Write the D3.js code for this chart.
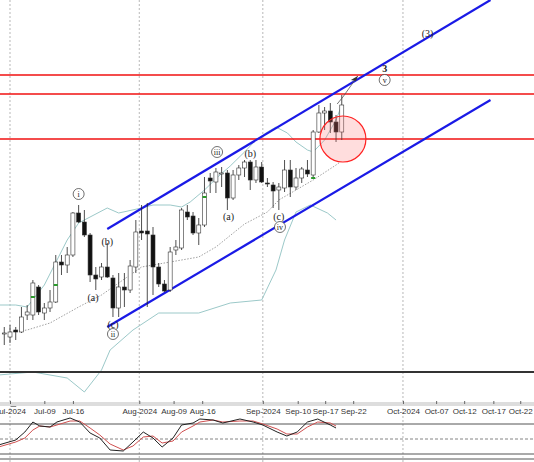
<!DOCTYPE html>
<html><head><meta charset="utf-8">
<script src="https://cdn.jsdelivr.net/npm/d3@7"></script>
<style>body{margin:0;background:#fff}svg{display:block;font-family:"DejaVu Sans",sans-serif}</style>
</head><body><svg id="c" width="534" height="462"></svg>
<script>
// candles: [index, open, high, low, close]  (chart level units, larger = lower on screen)
var candles = [
 [-1,334,327,345,333],[0,337,325,343,332],[1,330,327,340,332],[2,332,307,333,317],[3,315,305,320,312],
 [4,315,280,320,283],[5,287,285,315,312],[6,313,303,320,308],[7,308,290,312,302],[8,302,255,303,262],
 [9,262,255,275,265],[10,265,247,273,255],[11,255,212,257,213],[12,213,205,223,222],[13,222,210,237,235],
 [14,235,233,282,275],[15,275,267,290,279],[16,277,263,280,267],[17,267,243,278,277],[18,278,275,317,308],
 [19,308,273,317,287],[20,287,273,307,290],[21,290,260,293,266],[22,267,220,273,232],[23,231,205,240,233],
 [24,231,203,307,234],[25,235,227,295,267],[26,267,263,287,284],[27,284,280,292,291],[28,290,247,292,252],
 [29,250,240,255,247],[30,248,208,250,210],[31,212,205,220,217],[32,216,212,235,233],[33,233,218,245,225],
 [34,225,177,227,193],[35,178,173,193,181],[36,182,168,193,172],[37,174,167,187,173],[38,173,170,210,198],
 [39,198,170,200,175],[40,175,165,180,168],[41,168,160,177,162],[42,162,160,190,180],[43,180,160,183,167],
 [44,167,162,183,182],[45,183,178,187,184],[46,185,182,208,191],[47,190,183,210,187],[48,188,160,192,170],
 [49,170,160,197,187],[50,187,168,190,178],[51,178,167,183,169],[52,170,160,177,174],[53,175,130,177,132],
 [54,132,105,133,113],[55,113,107,130,111],[56,111,103,133,122],[57,122,115,142,132],[58,132,95,140,105]
];
var maLine = [[0,332],[3,330],[7,323],[12,307],[16,295],[18,287],[23,267],[33,257],[36,247],[41,224],[45,212],[47,200],[53,180],[57,165],[57.5,163]];
var upperBand = [[-2,305],[1,305],[3,307],[6,285],[10,240],[12,223],[17,208],[19,213],[23,208],[25,205],[28,205],[30,207],[31.5,202],[34,190],[36.5,176],[38.5,166],[41,152],[43,140],[45,132],[46.5,127],[48.5,133],[50,142],[52,150],[53,152],[55,140],[57,120],[58,105]];
var lowerBand = [[-2,375],[4,372],[10,378],[13,392],[16,370],[17.5,350],[21.5,330],[26,313],[33,313],[38.5,303],[44,300],[46.5,270],[48,240],[50,212],[52.5,205],[55.5,213],[57,220]];
var oscMain = [[-2,38],[1,48],[2.6,64],[4,84],[5.2,76],[7,74],[8.2,84],[10.5,92],[12.2,84],[14,62],[15.7,52],[17.5,28],[19.8,26],[21.5,44],[23.3,64],[25,52],[26.6,34],[28.5,52],[30,78],[32,82],[33.2,90],[35.5,88],[37.2,82],[40.2,90],[42.5,84],[44.2,78],[46.7,64],[48.4,56],[50.2,64],[52,84],[53.8,90],[56,78],[57,72]];
var oscSignal = [[-2,34],[1,44],[2.6,52],[4,68],[5.2,76],[7,74],[8.2,78],[10.5,86],[12.2,86],[14,72],[15.7,58],[17.5,40],[19.8,28],[21.5,36],[23.3,54],[25,56],[26.6,42],[28.5,46],[30,64],[32,76],[33.2,84],[35.5,88],[37.2,84],[40.2,86],[42.5,86],[44.2,80],[46.7,70],[48.4,60],[50.2,60],[52,74],[53.8,84],[56,82],[57,76]];
var tickLabels = ["Jul-2024","Jul-09","Jul-16","Aug-2024","Aug-09","Aug-16","Sep-2024","Sep-10","Sep-17","Sep-22","Oct-2024","Oct-07","Oct-12","Oct-17","Oct-22"];
var tickIndex = [0,6,11,22.6,28.6,33.6,44.2,50.3,55.1,60,68.7,74.5,79.4,84.5,89.2];
var monthGrid = [0,22.6,44.2,68.7];
var hLevels = [75,94,139];
var channelUpper = [[17,229],[84,0]];
var channelLower = [[17,327],[84,100]];
var greenMarks = [[4,297],[8,285],[34,197],[53,178]];
var waveLabels = [
 {t:"i",i:12,v:194,c:true},{t:"ii",i:18,v:334,c:true},{t:"(a)",i:14.5,v:297},{t:"(b)",i:17,v:241},{t:"(c)",i:18,v:324},
 {t:"iii",i:36.2,v:152,c:true},{t:"(a)",i:38.2,v:216},{t:"(b)",i:42,v:153},{t:"(c)",i:47,v:216},{t:"iv",i:47.2,v:227,c:true},
 {t:"v",i:65.5,v:80,c:true},{t:"3",i:65.5,v:68,b:true},{t:"(3)",i:73,v:33}
];

var svg = d3.select("#c");
var x = d3.scaleLinear().domain([0, 1]).range([10, 15.72]);
var y = d3.scaleLinear().domain([0, 372]).range([0, 372]);
var yo = d3.scaleLinear().domain([20, 80]).range([454, 424]);

var main = svg.append("g");
// grid
main.selectAll(".vg").data(monthGrid).enter().append("line")
  .attr("x1", d => x(d)).attr("x2", d => x(d)).attr("y1", 0).attr("y2", 462)
  .attr("stroke", "#999").attr("stroke-dasharray", "2,2").attr("stroke-width", 0.7);

var line = d3.line().x(d => x(d[0])).y(d => y(d[1]));
main.append("path").attr("d", line(maLine)).attr("fill", "none").attr("stroke", "#888").attr("stroke-dasharray", "1.5,1.5").attr("stroke-width", 0.8);
[upperBand, lowerBand].forEach(function(b) {
  main.append("path").attr("d", line(b)).attr("fill", "none").attr("stroke", "#9cc9c9").attr("stroke-width", 1);
});

// red levels
main.selectAll(".hl").data(hLevels).enter().append("line")
  .attr("x1", 0).attr("x2", 534).attr("y1", d => y(d)).attr("y2", d => y(d))
  .attr("stroke", "#f01010").attr("stroke-width", 1.6);

// channels
[channelUpper, channelLower].forEach(function(c) {
  main.append("path").attr("d", line(c)).attr("stroke", "#1a1ae6").attr("stroke-width", 2.2).attr("fill", "none");
});

// candles
var cw = 4;
var cg = main.selectAll(".cd").data(candles).enter().append("g");
cg.append("line").attr("x1", d => x(d[0])).attr("x2", d => x(d[0]))
  .attr("y1", d => y(d[2])).attr("y2", d => y(d[3])).attr("stroke", "#222").attr("stroke-width", 0.8);
cg.append("rect").attr("x", d => x(d[0]) - cw / 2).attr("width", cw)
  .attr("y", d => y(Math.min(d[1], d[4]))).attr("height", d => Math.max(1, Math.abs(y(d[1]) - y(d[4]))))
  .attr("fill", d => d[4] > d[1] ? "#111" : "#fff").attr("stroke", "#333").attr("stroke-width", 0.6);

main.selectAll(".gm").data(greenMarks).enter().append("rect")
  .attr("x", d => x(d[0]) - 2).attr("y", d => y(d[1]) - 1).attr("width", 4).attr("height", 2).attr("fill", "#2a9a2a");

// target circle and arrow
main.append("circle").attr("cx", x(58.2)).attr("cy", y(139)).attr("r", 23)
  .attr("fill", "rgba(255,120,120,0.25)").attr("stroke", "#f22").attr("stroke-width", 1.2);
main.append("path").attr("d", line([[57.2,104],[58.2,97],[60.8,76]])).attr("fill", "none").attr("stroke", "#555").attr("stroke-width", 0.8);
main.append("path").attr("d", line([[60.8,76],[59.6,80],[60.5,81]]) + "Z").attr("fill", "#333");

// wave labels
var wl = main.selectAll(".wl").data(waveLabels).enter().append("g")
  .attr("transform", d => "translate(" + x(d.i) + "," + y(d.v) + ")");
wl.filter(d => d.c).append("circle").attr("r", 5.5).attr("fill", "#fff").attr("stroke", "#333").attr("stroke-width", 0.7);
wl.append("text").attr("text-anchor", "middle").attr("dy", "0.35em")
  .attr("font-family", "Liberation Serif, serif")
  .attr("font-size", d => d.c ? 8 : 10).attr("font-weight", d => d.b ? "bold" : "normal")
  .attr("fill", "#222").text(d => d.t);

// panel separators
svg.append("rect").attr("x", 0).attr("y", 371).attr("width", 534).attr("height", 2).attr("fill", "#333");
svg.append("rect").attr("x", 0).attr("y", 402).attr("width", 534).attr("height", 4).attr("fill", "#ddd");

// date axis
var ax = svg.append("g").attr("transform", "translate(0,406)")
  .call(d3.axisBottom(x).tickValues(tickIndex).tickFormat((d, i) => tickLabels[i]).tickSize(3).tickSizeOuter(0));
ax.select(".domain").attr("stroke", "#888");
ax.selectAll(".tick line").attr("stroke", "#666").attr("transform", "translate(0,-5)");
ax.selectAll("text").attr("font-size", 8).attr("fill", "#333").attr("dy", "0.3em").attr("font-family", "Liberation Sans, sans-serif");

// oscillator
[[80,"none"],[20,"none"],[50,"3,2"]].forEach(function(l) {
  svg.append("line").attr("x1", 0).attr("x2", 534).attr("y1", yo(l[0])).attr("y2", yo(l[0]))
    .attr("stroke", l[1] === "none" ? "#555" : "#666").attr("stroke-width", l[1] === "none" ? 1 : 0.8).attr("stroke-dasharray", l[1]);
});
svg.append("line").attr("x1", 0).attr("x2", 534).attr("y1", 459).attr("y2", 459).attr("stroke", "#555");
var oline = d3.line().x(d => x(d[0])).y(d => yo(d[1]));
svg.append("path").attr("d", oline(oscSignal)).attr("fill", "none").attr("stroke", "#d05050").attr("stroke-width", 1);
svg.append("path").attr("d", oline(oscMain)).attr("fill", "none").attr("stroke", "#222").attr("stroke-width", 1);
</script></body></html>
